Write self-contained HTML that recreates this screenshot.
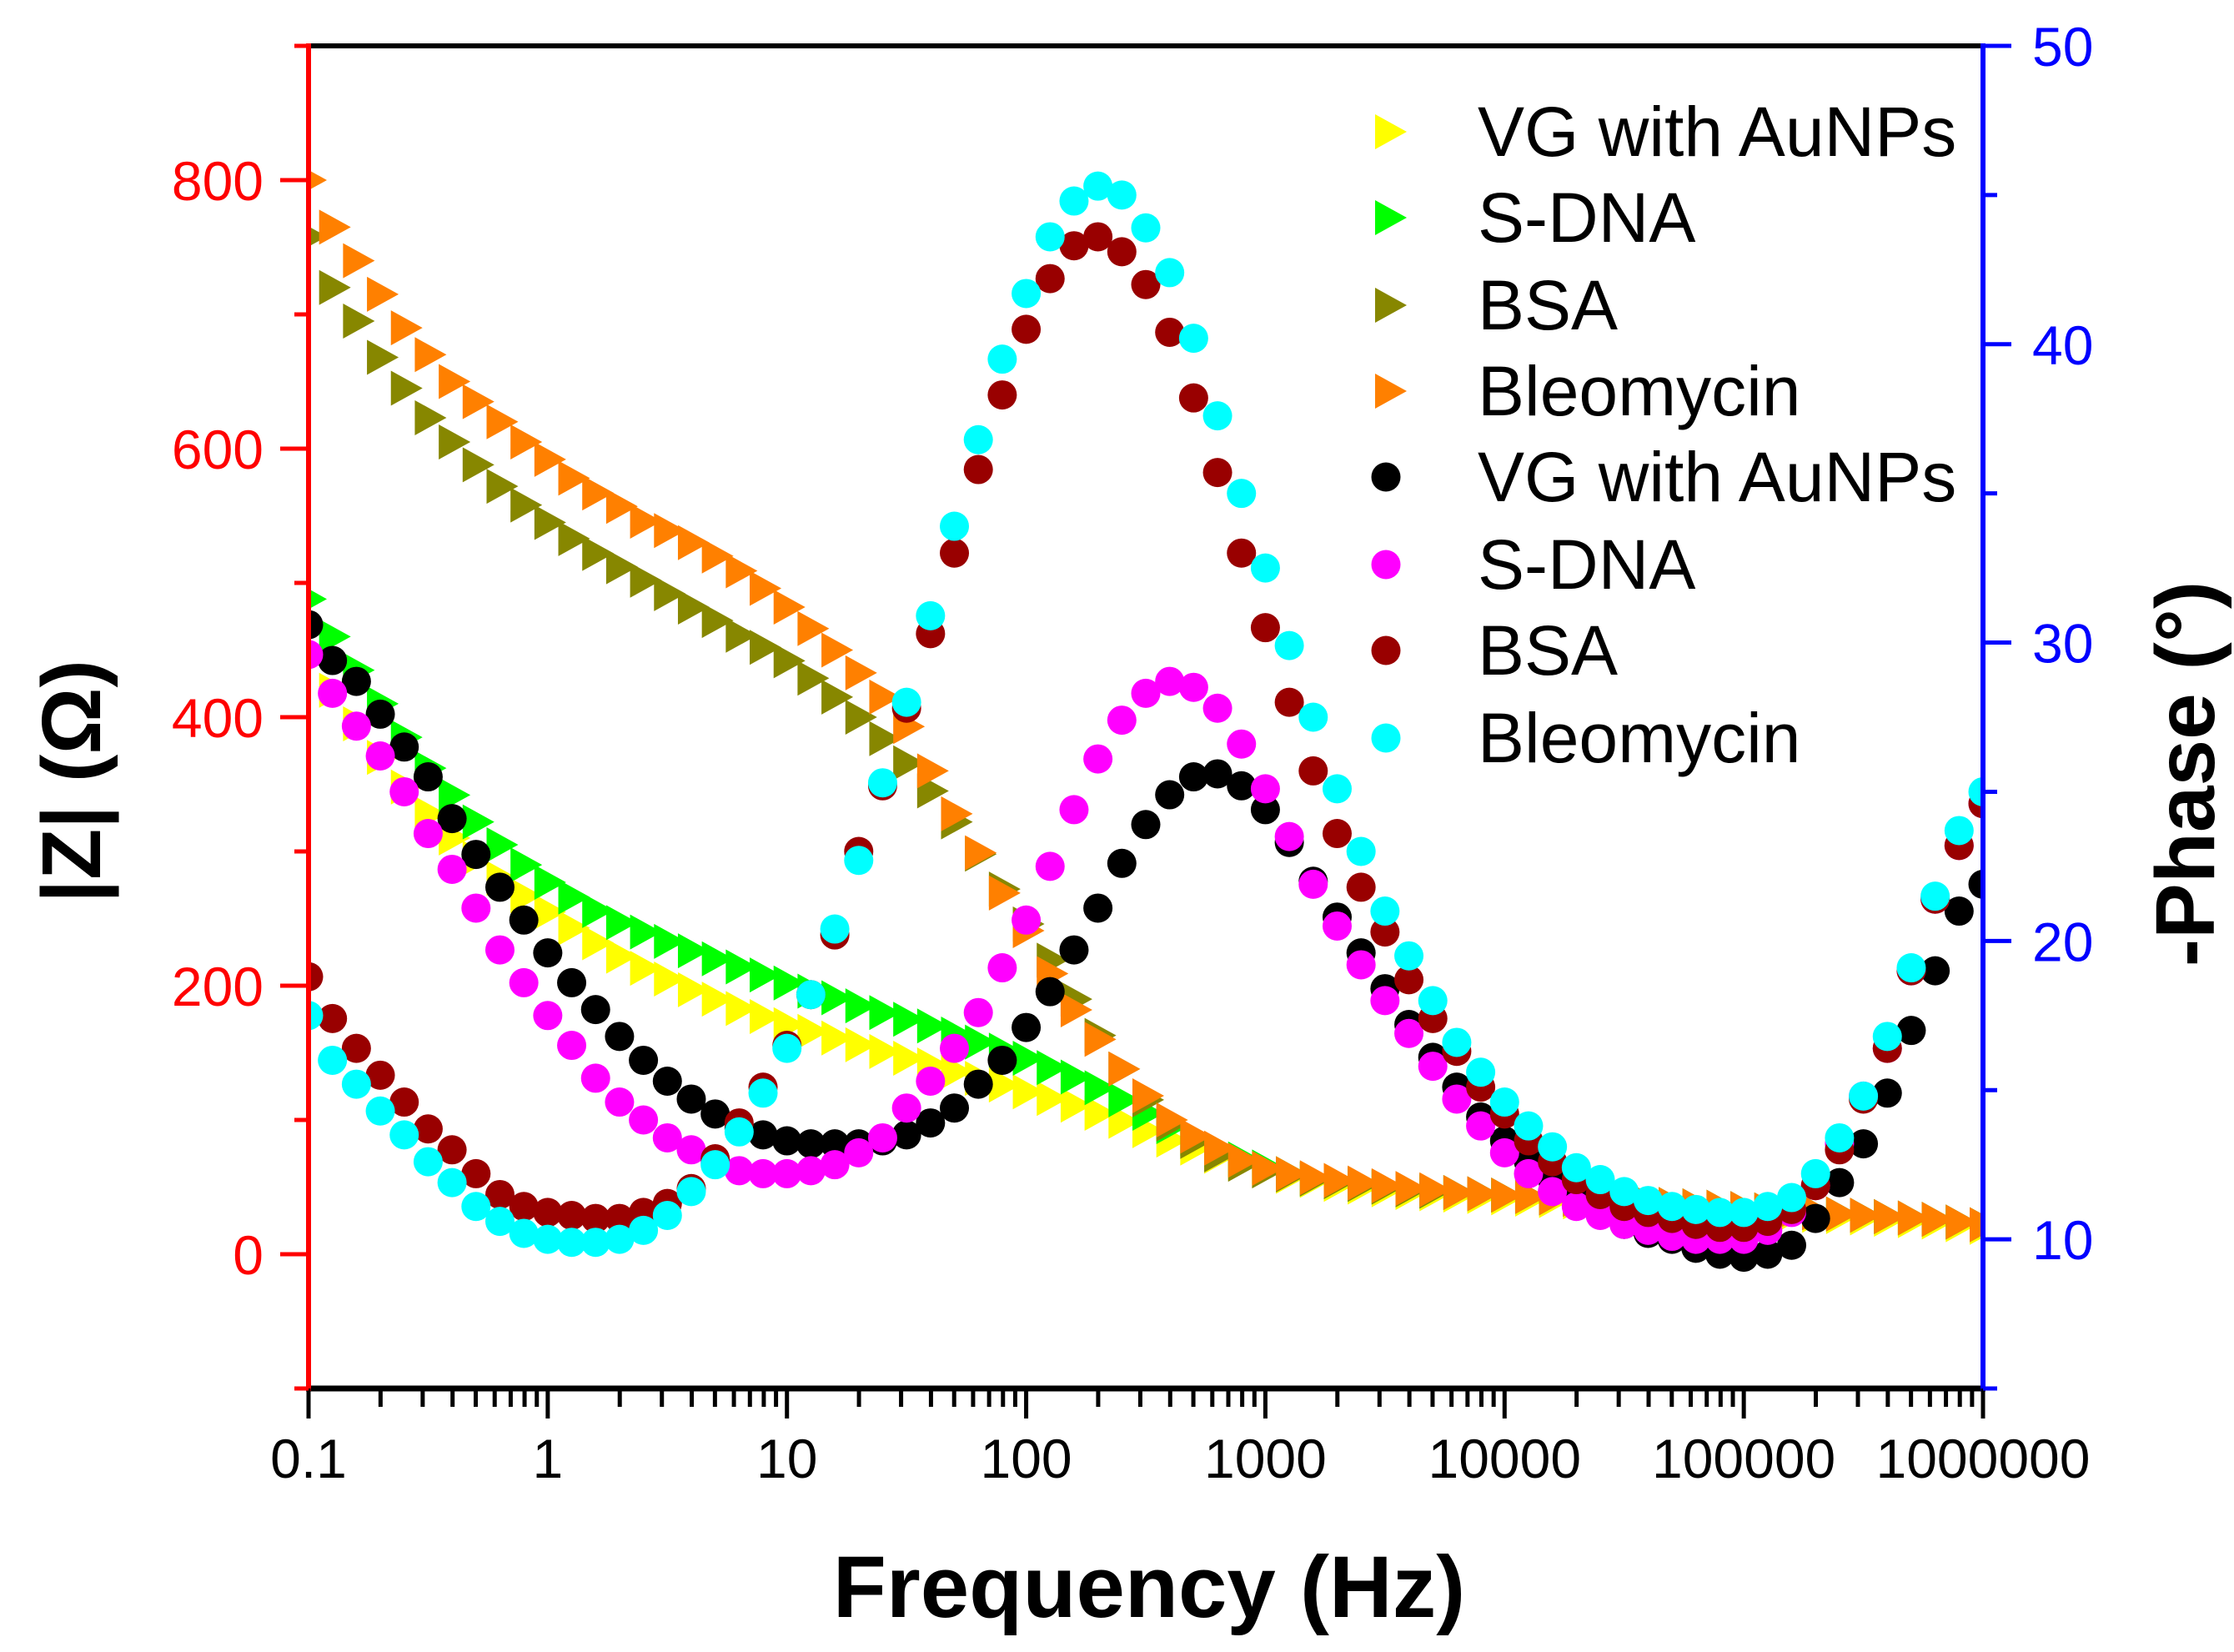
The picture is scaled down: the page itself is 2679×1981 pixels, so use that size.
<!DOCTYPE html>
<html><head><meta charset="utf-8"><title>Impedance Bode plot</title>
<style>
html,body{margin:0;padding:0;background:#fff;}
svg{display:block;font-family:"Liberation Sans",Arial,sans-serif;}
</style></head>
<body>
<svg id="chart" width="2679" height="1981" viewBox="0 0 2679 1981" xmlns="http://www.w3.org/2000/svg">
<defs><clipPath id="plotclip"><rect x="370" y="55" width="2008" height="1610"/></clipPath></defs>
<rect x="0" y="0" width="2679" height="1981" fill="#fff"/>
<g id="marks" clip-path="url(#plotclip)"></g>
<g id="axes"></g>
<g id="legend"></g>
</svg>
<script>
// ---- data ----
var xTickValues = [0.1, 1, 10, 100, 1000, 10000, 100000, 1000000];
var xTickLabels = ["0.1", "1", "10", "100", "1000", "10000", "100000", "1000000"];
var zTickValues = [0, 200, 400, 600, 800];
var zTickLabels = ["0", "200", "400", "600", "800"];
var phaseTickValues = [10, 20, 30, 40, 50];
var phaseTickLabels = ["10", "20", "30", "40", "50"];
var seriesNames = ["VG with AuNPs", "S-DNA", "BSA", "Bleomycin"];

// |Z| (Ohm), 10 points per decade from 0.1 Hz to 1 MHz
var zVG = [450,420,395,370,348,328,310,295,280,267, 255,243,232,222,213,205,197,190,183,177, 171,166,161,156,151,146,141,136,131,126, 121,116,111,105,99,92,85,79,73,68, 63,58,55,52,50,48,46,45,44,43, 42,41,40,39,38,37,36,35,34,33, 32,31,30,29,28,27,26,25,24,22,20];
var zSDNA = [488,460,435,410,385,362,342,322,305,290, 277,266,256,247,240,233,226,220,214,208, 202,196,191,185,180,175,170,164,158,152, 146,139,132,124,115,105,95,86,78,71, 65,60,56,54,52,50,48,47,46,45, 44,43,42,41,40,39,38,37,36,35, 34,33,32,31,30,29,28,27,26,24,22];
var zBSA = [758,720,695,668,645,623,605,588,572,558, 545,533,522,512,502,492,482,472,461,452, 442,429,415,400,384,366,345,322,298,272, 246,219,190,163,138,115,97,84,74,67, 62,59,56,54,52,50,48,47,46,45, 44,43,42,41,40,39,38,37,36,35, 34,33,32,31,30,29,28,27,26,24,22];
var zBleo = [800,765,740,715,690,670,650,635,620,605, 592,578,567,557,546,539,530,520,509,496, 482,466,450,433,415,393,360,328,299,269, 241,209,182,160,138,118,100,88,79,70, 64,60,57,55,53,51,49,48,46,45, 44,43,42,41,40,39,38,37,36,35, 34,33,32,31,30,29,28,27,26,24,22];

// -Phase (degrees)
var pVG = [30.6,29.4,28.7,27.6,26.5,25.5,24.1,22.9,21.8,20.7, 19.6,18.6,17.7,16.8,16.0,15.3,14.7,14.2,13.7,13.5, 13.3,13.2,13.2,13.2,13.3,13.5,13.9,14.4,15.2,16.0, 17.1,18.3,19.7,21.1,22.6,23.9,24.9,25.5,25.6,25.2, 24.4,23.3,22.0,20.8,19.6,18.4,17.2,16.1,15.1,14.1, 13.3,12.6,12.0,11.4,10.9,10.5,10.2,10.0,9.7,9.5, 9.4,9.5,9.8,10.7,11.9,13.2,14.9,17.0,19.0,21.0,21.9];
var pSDNA = [29.6,28.3,27.2,26.2,25.0,23.6,22.4,21.1,19.7,18.6, 17.5,16.5,15.4,14.6,14.0,13.4,13.0,12.6,12.3,12.2, 12.2,12.3,12.5,12.9,13.4,14.4,15.3,16.4,17.6,19.1, 20.7,22.5,24.4,26.1,27.4,28.3,28.7,28.5,27.8,26.6, 25.1,23.5,21.9,20.5,19.2,18.0,16.9,15.8,14.7,13.8, 12.9,12.2,11.6,11.1,10.8,10.5,10.3,10.1,10.0,10.0, 10.0,10.3,10.9,11.8,13.2,14.8,16.4,19.0,21.4,23.2,24.6];
var pBSA = [18.8,17.4,16.4,15.5,14.6,13.7,13.0,12.2,11.5,11.1, 10.9,10.8,10.7,10.7,10.9,11.2,11.7,12.7,13.9,15.1, 16.5,18.2,20.2,23.0,25.2,27.8,30.3,33.0,35.8,38.3, 40.5,42.2,43.3,43.6,43.1,42.0,40.4,38.2,35.7,33.0, 30.5,28.0,25.7,23.6,21.8,20.3,18.7,17.4,16.3,15.1, 14.2,13.3,12.6,12.0,11.5,11.1,10.9,10.7,10.5,10.4, 10.4,10.6,11.0,11.8,13.0,14.7,16.4,19.0,21.4,23.2,24.6];
var pBleo = [17.5,16.0,15.2,14.3,13.5,12.6,11.9,11.1,10.6,10.2, 10.0,9.9,9.9,10.0,10.3,10.8,11.6,12.5,13.6,14.9, 16.4,18.2,20.4,22.7,25.3,28.0,30.9,33.9,36.8,39.5, 41.7,43.6,44.8,45.3,45.0,43.9,42.4,40.2,37.6,35.0, 32.5,29.9,27.5,25.1,23.0,21.0,19.5,18.0,16.6,15.6, 14.6,13.8,13.1,12.4,12.0,11.6,11.3,11.1,11.0,10.9, 10.9,11.1,11.4,12.2,13.4,14.8,16.8,19.1,21.5,23.7,25.0];

var zSeries = [zVG, zSDNA, zBSA, zBleo];
var pSeries = [pVG, pSDNA, pBSA, pBleo];
var triColors = ["#FFFF00", "#00FF00", "#878700", "#FF8000"];
var circColors = ["#000000", "#FF00FF", "#990000", "#00FFFF"];

// ---- scales ----
var PL = 370, PR = 2378, PT = 55, PB = 1665;
function xScale(f){ return PL + (Math.log10(f) + 1) * (PR - PL) / 7; }
function yZ(z){ return 1504 - z * 1.61; }
function yP(p){ return PB - (p - 5) * (PB - PT) / 45; }
function freqAt(i){ return 0.1 * Math.pow(10, i / 10); }

var NS = "http://www.w3.org/2000/svg";
function mk(tag, attrs, parent){
  var e = document.createElementNS(NS, tag);
  for (var k in attrs) e.setAttribute(k, attrs[k]);
  parent.appendChild(e);
  return e;
}
var marks = document.getElementById("marks");
var axes = document.getElementById("axes");
var legend = document.getElementById("legend");

function triPts(x, y){ return (x-16)+","+(y-21)+" "+(x+22)+","+y+" "+(x-16)+","+(y+21); }

// triangles (|Z|)
for (var s = 0; s < zSeries.length; s++){
  var g = mk("g", {}, marks);
  
  
  var arr = zSeries[s];
  for (var i = 0; i < arr.length; i++){
    var x = xScale(freqAt(i)), y = yZ(arr[i]);
    var t = mk("polygon", {points: triPts(x, y), fill: triColors[s]}, g);
    
    
  }
}
// circles (phase)
for (var s2 = 0; s2 < pSeries.length; s2++){
  var g2 = mk("g", {}, marks);
  
  
  var arr2 = pSeries[s2];
  for (var j = 0; j < arr2.length; j++){
    var c = mk("circle", {cx: xScale(freqAt(j)), cy: yP(arr2[j]), r: 17.5, fill: circColors[s2]}, g2);
    
    
  }
}

// ---- axes ----
var topAx = mk("line", {x1: PL, y1: PT, x2: PR, y2: PT, stroke: "#000", "stroke-width": 6}, axes);


var botAx = mk("line", {x1: PL-3, y1: PB, x2: PR+3, y2: PB, stroke: "#000", "stroke-width": 7}, axes);


var leftAx = mk("line", {x1: PL, y1: PT-3, x2: PL, y2: PB+3, stroke: "#FF0000", "stroke-width": 6}, axes);


var rightAx = mk("line", {x1: PR, y1: PT-3, x2: PR, y2: PB+3, stroke: "#0000FF", "stroke-width": 6}, axes);



// x ticks
for (var d = 0; d < xTickValues.length; d++){
  var xv = xScale(xTickValues[d]);
  var tk = mk("line", {x1: xv, y1: PB, x2: xv, y2: PB + 36, stroke: "#000", "stroke-width": 5}, axes);
  
  
  var lb = mk("text", {x: xv, y: 1772, "text-anchor": "middle", "font-size": 66, fill: "#000"}, axes);
  lb.textContent = xTickLabels[d];
  
  
  if (d < xTickValues.length - 1){
    for (var m = 2; m <= 9; m++){
      var xm = xScale(xTickValues[d] * m);
      var mt = mk("line", {x1: xm, y1: PB, x2: xm, y2: PB + 22, stroke: "#000", "stroke-width": 5}, axes);
      
      
    }
  }
}
// left ticks
for (var zv = -100; zv <= 900; zv += 100){
  var isMaj = (zv % 200 === 0);
  var yv = yZ(zv);
  var lt = mk("line", {x1: PL, y1: yv, x2: PL - (isMaj ? 34 : 17), y2: yv, stroke: "#FF0000", "stroke-width": 5}, axes);
  
  
}
for (var a = 0; a < zTickValues.length; a++){
  var zl = mk("text", {x: 316, y: yZ(zTickValues[a]) + 24, "text-anchor": "end", "font-size": 66, fill: "#FF0000"}, axes);
  zl.textContent = zTickLabels[a];
  
  
}
// right ticks
for (var pv = 5; pv <= 50; pv += 5){
  var isM = (pv % 10 === 0);
  var yy = yP(pv);
  var rt = mk("line", {x1: PR, y1: yy, x2: PR + (isM ? 34 : 17), y2: yy, stroke: "#0000FF", "stroke-width": 5}, axes);
  
  
}
for (var b = 0; b < phaseTickValues.length; b++){
  var pl = mk("text", {x: 2437, y: yP(phaseTickValues[b]) + 24, "text-anchor": "start", "font-size": 66, fill: "#0000FF"}, axes);
  pl.textContent = phaseTickLabels[b];
  
  
}

// titles
var xt = mk("text", {x: 1378, y: 1939, "text-anchor": "middle", "font-size": 105, "font-weight": "bold", fill: "#000"}, axes);
xt.textContent = "Frequency (Hz)";


var yt = mk("text", {x: 0, y: 0, "text-anchor": "middle", "font-size": 100, "font-weight": "bold", fill: "#000", transform: "translate(120,937) rotate(-90)"}, axes);
yt.textContent = "|Z| (\u03A9)";


var pt = mk("text", {x: 0, y: 0, "text-anchor": "middle", "font-size": 100, "font-weight": "bold", fill: "#000", transform: "translate(2655,928) rotate(-90)"}, axes);
pt.textContent = "-Phase (\u00B0)";



// legend
var rowsY = [158, 261, 366, 469, 572, 677, 780, 885];
for (var r = 0; r < 8; r++){
  var ly = rowsY[r];
  var idx = r % 4;
  var mkr;
  if (r < 4){
    mkr = mk("polygon", {points: triPts(1665, ly), fill: triColors[idx]}, legend);
  } else {
    mkr = mk("circle", {cx: 1662, cy: ly, r: 17.5, fill: circColors[idx]}, legend);
  }
  
  
  var lt2 = mk("text", {x: 1772, y: ly + 29, "font-size": 84, fill: "#000"}, legend);
  lt2.textContent = seriesNames[idx];
  
  
}
</script>
</body></html>
